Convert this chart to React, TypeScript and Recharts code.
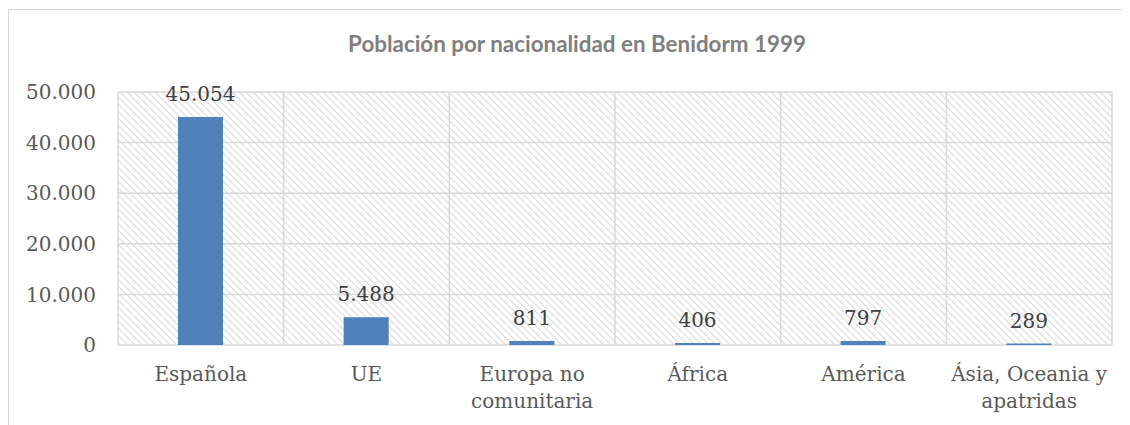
import React from 'react';
import { Bar, BarChart, CartesianGrid, LabelList, Text, XAxis, YAxis } from 'recharts';

const categories = ['Española', 'UE', 'Europa no comunitaria', 'África', 'América', 'Ásia, Oceania y apatridas'];
const population = [45054, 5488, 811, 406, 797, 289];
const yTicks = [0, 10000, 20000, 30000, 40000, 50000];

const chartData = categories.map((name, i) => ({ name, value: population[i] }));

const serif = '"DejaVu Serif", serif';

// puntos como separador de miles, también para 4 cifras
const fmt = (v: number) => String(v).replace(/\B(?=(\d{3})+(?!\d))/g, '.');

const CategoryTick = (props: any) => {
  const { x, y, payload } = props;
  return (
    <Text
      x={x}
      y={y}
      width={162}
      textAnchor="middle"
      verticalAnchor="start"
      lineHeight={26.5}
      style={{ fontFamily: serif, fontSize: 20 }}
      fill="#595959"
    >
      {payload.value}
    </Text>
  );
};

const App: React.FC = () => {
  const W = 1122;
  const H = 417;

  return (
    <div style={{ position: 'relative', width: W, height: H }}>
      <div
        style={{
          position: 'absolute',
          left: 0,
          top: 1,
          width: W,
          height: H + 10,
          borderTop: '1.5px solid #D9D9D9',
          borderLeft: '1.5px solid #D9D9D9',
          boxSizing: 'border-box',
          zIndex: 2,
          pointerEvents: 'none',
        }}
      />
      <div
        style={{
          position: 'absolute',
          left: 0,
          top: 22,
          width: W + 16,
          textAlign: 'center',
          fontFamily: 'Lato, sans-serif',
          fontWeight: 700,
          fontSize: 22.4,
          color: '#7F7F7F',
        }}
      >
        Población por nacionalidad en Benidorm 1999
      </div>
      <div style={{ position: 'absolute', left: 0, top: 0 }}>
        <BarChart width={W} height={H} data={chartData} margin={{ top: 84, right: 18, bottom: 0, left: 0 }}>
          <defs>
            <pattern id="hatch" patternUnits="userSpaceOnUse" width={7} height={7}>
              <rect width={7} height={7} fill="#FFFFFF" />
              <path d="M0,0 L7,7 M-1,6 L1,8 M6,-1 L8,1" stroke="#DCDCDC" strokeWidth={1.2} />
            </pattern>
          </defs>
          <CartesianGrid
            fill="url(#hatch)"
            stroke="#D9D9D9"
            strokeWidth={1.5}
            verticalCoordinatesGenerator={({ offset }: any) =>
              categories.map((_, i) => offset.left + (i * offset.width) / categories.length).concat(offset.left + offset.width)
            }
          />
          <XAxis
            dataKey="name"
            axisLine={false}
            tickLine={false}
            tickSize={0}
            tickMargin={22}
            height={80}
            interval={0}
            tick={<CategoryTick />}
          />
          <YAxis
            domain={[0, 50000]}
            ticks={yTicks}
            tickFormatter={fmt}
            axisLine={false}
            tickLine={false}
            tickSize={0}
            tickMargin={22}
            width={110}
            tick={{ fontFamily: serif, fontSize: 20, fill: '#595959' }}
          />
          <Bar dataKey="value" fill="#4F81BD" barSize={45} isAnimationActive={false}>
            <LabelList
              dataKey="value"
              position="top"
              offset={16}
              formatter={(v: any) => fmt(Number(v))}
              style={{ fontFamily: serif, fontSize: 20, fill: '#404040' }}
            />
          </Bar>
        </BarChart>
      </div>
    </div>
  );
};

export default App;
